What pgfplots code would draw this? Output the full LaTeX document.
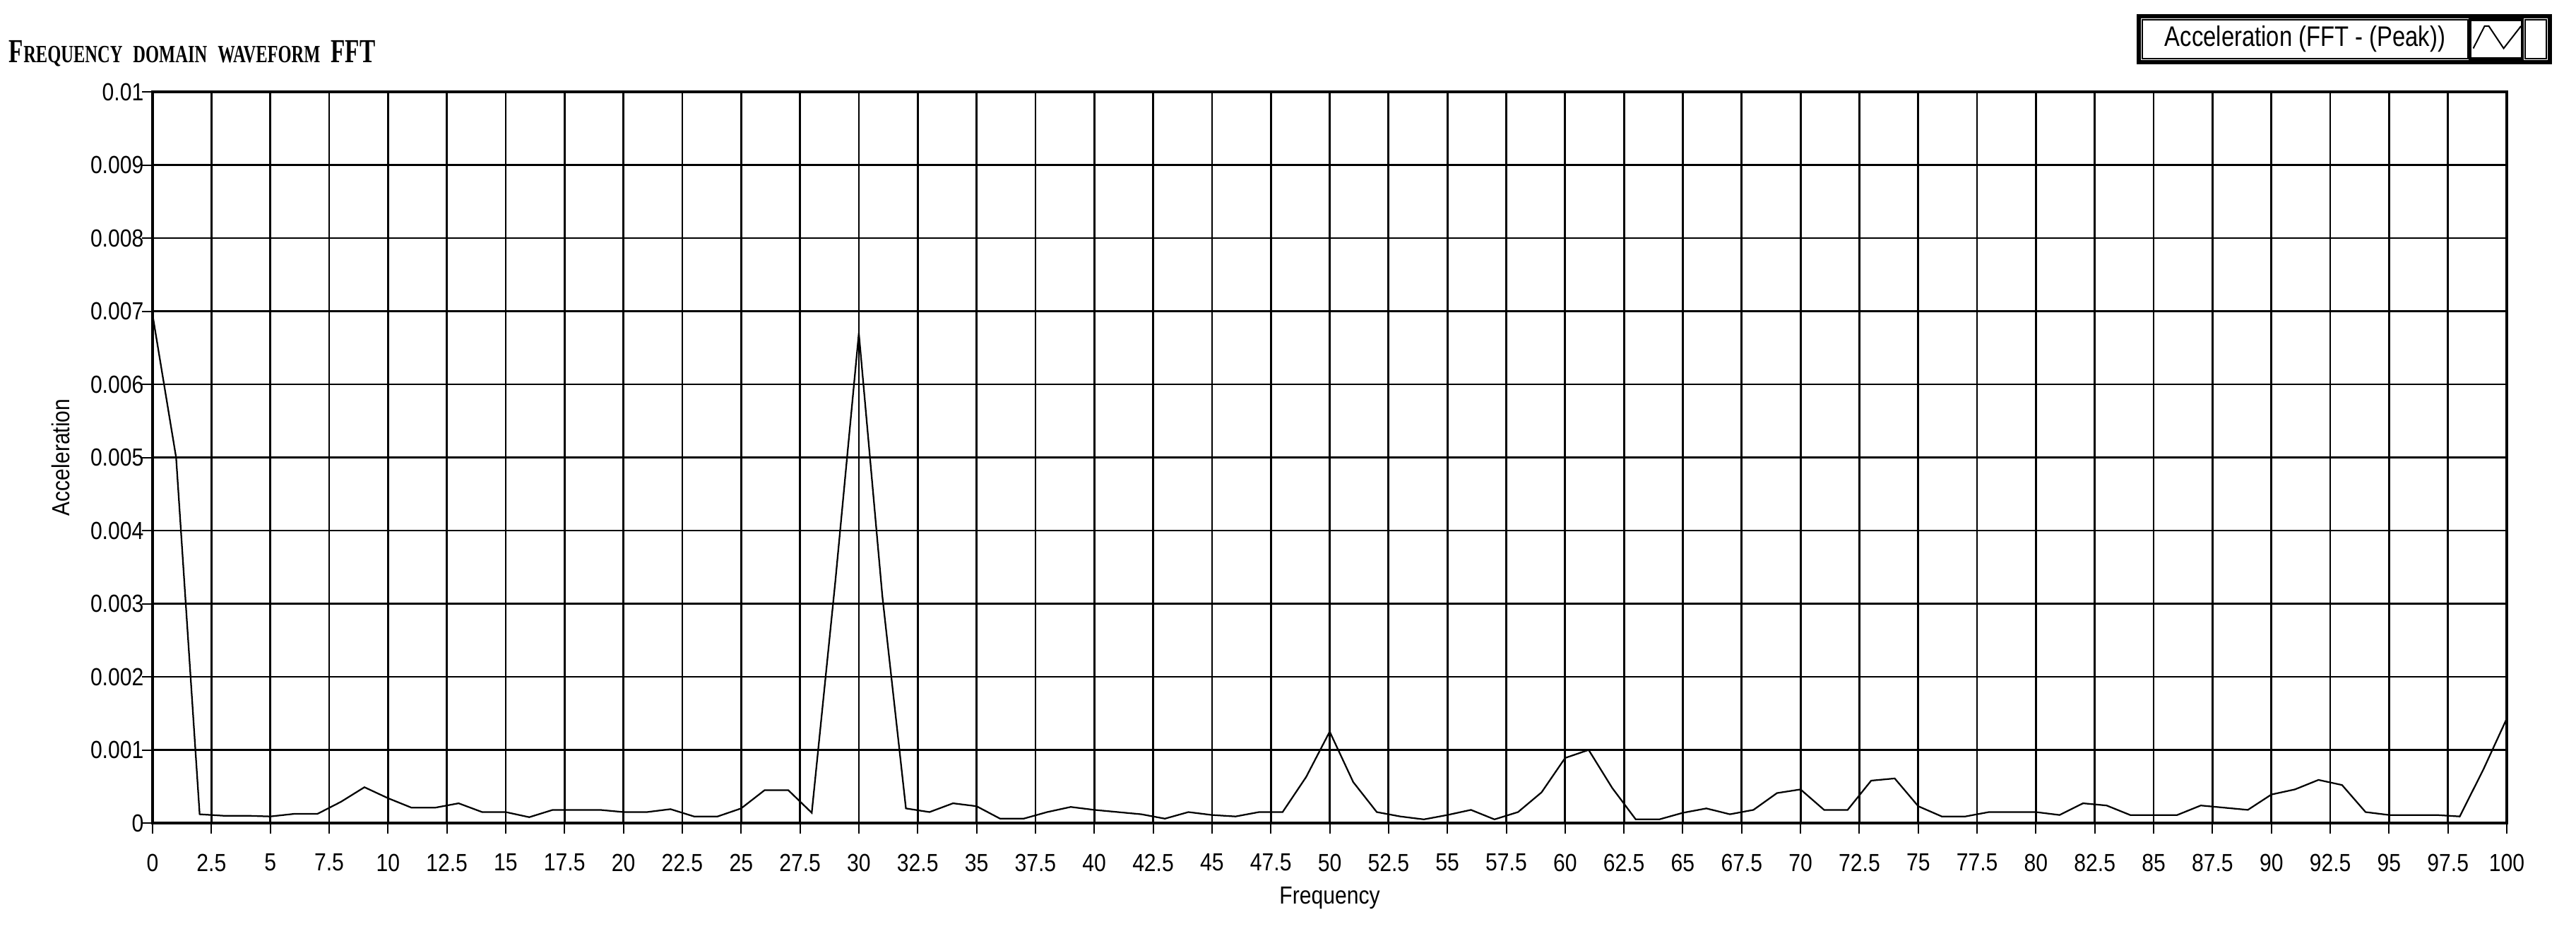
\documentclass[border=0pt]{standalone}
\usepackage{fontspec}
\setmainfont{Liberation Sans}
\newfontfamily\titlefont{Liberation Serif}[FakeStretch=0.70]
\newfontfamily\tickfont{Liberation Sans}[FakeStretch=0.86]
\newfontfamily\legfont{Liberation Sans}[FakeStretch=0.82]
\usepackage{pgfplots}
\pgfplotsset{compat=1.18}

\pgfplotstableread{
f a
0 0.00695
1 0.0050
2 0.00012
3 0.00010
4 0.00010
5 0.00009
6 0.000125
7 0.000125
8 0.00029
9 0.00049
10 0.00034
11 0.00021
12 0.00021
13 0.00027
14 0.00015
15 0.00015
16 0.00008
17 0.00018
18 0.00018
19 0.00018
20 0.00015
21 0.00015
22 0.00019
23 0.00009
24 0.00009
25 0.00020
26 0.00045
27 0.00045
28 0.00014
29 0.0033
30 0.0067
31 0.0031
32 0.00020
33 0.00015
34 0.00027
35 0.00023
36 0.00006
37 0.00006
38 0.00015
39 0.00022
40 0.00018
41 0.00015
42 0.00012
43 0.00006
44 0.00015
45 0.00011
46 0.00009
47 0.00015
48 0.00015
49 0.00063
50 0.00125
51 0.00056
52 0.00015
53 0.00009
54 0.00005
55 0.00011
56 0.00018
57 0.00005
58 0.00015
59 0.00042
60 0.00089
61 0.00100
62 0.00048
63 0.00005
64 0.00005
65 0.00014
66 0.00020
67 0.00012
68 0.00018
69 0.00041
70 0.00046
71 0.00018
72 0.00018
73 0.00058
74 0.00061
75 0.00023
76 0.00009
77 0.00009
78 0.00015
79 0.00015
80 0.00015
81 0.00011
82 0.00027
83 0.00024
84 0.00011
85 0.00011
86 0.00011
87 0.00024
88 0.00021
89 0.00018
90 0.00039
91 0.00046
92 0.00059
93 0.00052
94 0.00015
95 0.00011
96 0.00011
97 0.00011
98 0.00009
99 0.00073
100 0.00143
}\fftdata

\begin{document}
\begin{tikzpicture}
% page frame (picture size 729.4pt x 262.8pt, axis origin at (0,0))
\path (-43.2pt,-29.8pt) rectangle (686.2pt,233pt);
\begin{axis}[
  scale only axis,
  width=666.6pt, height=207pt,
  at={(0pt,0pt)}, anchor=south west,
  xmin=0, xmax=100, ymin=0, ymax=0.01,
  xtick={0,2.5,...,100},
  ytick={0,0.001,0.002,0.003,0.004,0.005,0.006,0.007,0.008,0.009,0.01},
  grid=major,
  grid style={black, line width=0.55pt},
  axis line style={black, line width=0.75pt},
  tick align=outside,
  xtick pos=bottom, ytick pos=left,
  major tick length=3pt,
  tick style={black, line width=0.4pt},
  scaled y ticks=false,
  yticklabel style={/pgf/number format/fixed, /pgf/number format/precision=3, xshift=4pt},
  xticklabel style={yshift=-2.2pt},
  /pgf/number format/assume math mode=true,
  ticklabel style={font=\tickfont\fontsize{7}{8}\selectfont},
  xlabel={Frequency}, ylabel={Acceleration},
  label style={font=\tickfont\fontsize{7}{8}\selectfont},
  xlabel style={at={(axis description cs:0.5,-0.102)}, anchor=center},
  ylabel style={at={(axis description cs:-0.039,0.5)}, anchor=center, rotate=0},
]
\addplot[black, line width=0.45pt, mark=none] table[x=f, y=a] {\fftdata};
\end{axis}
% title
\node[anchor=base west, inner sep=0pt, font=\titlefont\bfseries] at (-40.8pt,215.2pt)
  {\fontsize{9.5}{10}\selectfont F\fontsize{7}{8}\selectfont REQUENCY\hspace{3pt}DOMAIN\hspace{3pt}WAVEFORM\hspace{3pt}\fontsize{9.5}{10}\selectfont FFT};
% legend
\draw[line width=1.1pt] (562.4pt,215.4pt) rectangle (678.8pt,228.4pt);
\draw[line width=0.4pt] (563.4pt,216.4pt) rectangle (655.5pt,227.4pt);
\draw[line width=0.7pt] (656.2pt,216.4pt) rectangle (671pt,227.4pt);
\draw[line width=0.4pt] (671.7pt,216.4pt) rectangle (677.8pt,227.4pt);
\draw[line width=0.4pt] (657.1pt,219.3pt) -- (660.3pt,225.6pt) -- (661.5pt,225.6pt) -- (665.7pt,219.3pt) -- (670.6pt,225.6pt);
\node[anchor=center, inner sep=0pt, font=\legfont\fontsize{8}{9}\selectfont] at (609.5pt,221.9pt) {Acceleration (FFT - (Peak))};
\end{tikzpicture}
\end{document}
